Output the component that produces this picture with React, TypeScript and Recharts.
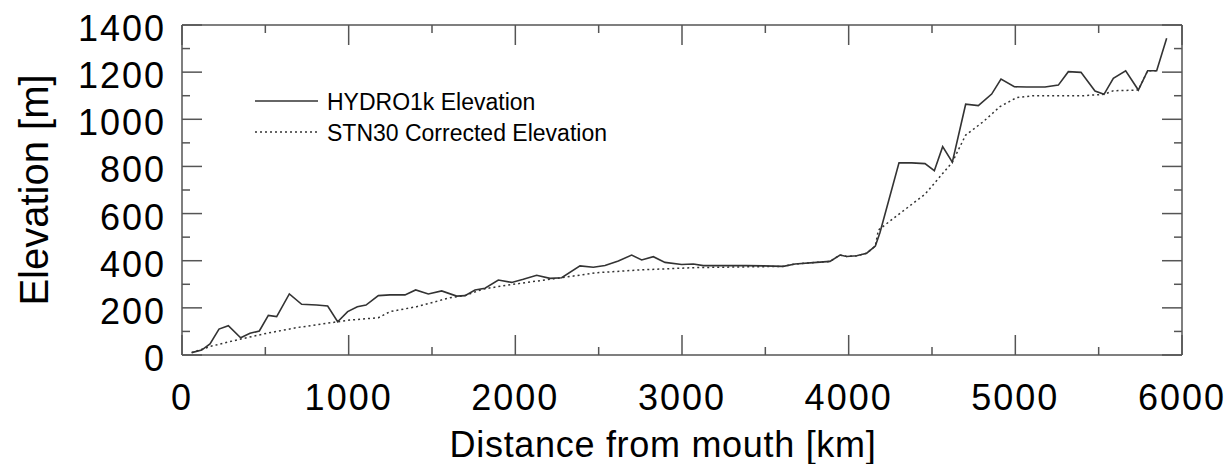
import React from "react";
import { LineChart, Line, XAxis, YAxis } from "recharts";

// HYDRO1k profile (solid)
const hydroDist = [
  58, 118, 168, 222, 278, 352, 408, 464, 518, 568, 644, 718, 808, 874, 934, 994, 1052, 1104, 1178, 1248,
  1338, 1402, 1478, 1558, 1648, 1698, 1758, 1818, 1898, 1978, 2048, 2128, 2208, 2278, 2388, 2468, 2538,
  2618, 2698, 2758, 2828, 2898, 2998, 3068, 3128, 3248, 3388, 3488, 3608, 3678, 3808, 3888, 3948, 3988,
  4048, 4108, 4160, 4188, 4302, 4378, 4458, 4514, 4564, 4622, 4702, 4778, 4858, 4914, 4994, 5068, 5178,
  5258, 5318, 5394, 5478, 5532, 5588, 5662, 5738, 5794, 5848, 5908,
];
const hydroElev = [
  10, 21, 47, 110, 124, 73, 92, 102, 168, 163, 259, 215, 212, 208, 141, 184, 205, 212, 252, 255,
  255, 276, 259, 272, 250, 252, 276, 283, 318, 308, 321, 338, 325, 328, 378, 372, 380,
  399, 424, 403, 417, 393, 384, 386, 379, 379, 379, 378, 376, 386, 393, 397, 424, 418,
  421, 432, 462, 520, 815, 815, 812, 782, 884, 818, 1064, 1058, 1107, 1171, 1138, 1137, 1137,
  1145, 1202, 1199, 1120, 1106, 1174, 1206, 1124, 1206, 1206, 1344,
];

// STN30 corrected profile (dotted)
const stnDist = [
  58, 178, 348, 508, 688, 934, 1008, 1178, 1248, 1408, 1608, 1698, 1808, 1958, 2278, 2488, 2748, 3088,
  3608, 3678, 3808, 3888, 3948, 3988, 4048, 4108, 4160, 4178, 4308, 4458, 4622, 4702, 4808, 4908, 5008,
  5108, 5408, 5532, 5588, 5738, 5794, 5848,
];
const stnElev = [
  10, 38, 67, 92, 116, 141, 148, 158, 184, 205, 243, 252, 280, 297, 328, 349, 361, 371,
  376, 386, 393, 397, 424, 418, 421, 432, 462, 530, 601, 682, 818, 933, 990, 1054, 1092,
  1100, 1100, 1106, 1121, 1124, 1206, 1206,
];

const xTicks = [0, 500, 1000, 1500, 2000, 2500, 3000, 3500, 4000, 4500, 5000, 5500, 6000];
const yTicks = [0, 100, 200, 300, 400, 500, 600, 700, 800, 900, 1000, 1100, 1200, 1300, 1400];

const hydro = hydroDist.map((d, i) => ({ x: d, y: hydroElev[i] }));
const stn = stnDist.map((d, i) => ({ x: d, y: stnElev[i] }));

const FONT = "'Liberation Sans', Arial, Helvetica, sans-serif";
const AXIS = "#555";
const INK = "#333";

const isMajorX = (v: number) => v % 1000 === 0;
const isMajorY = (v: number) => v % 200 === 0;

function BottomTick(props: any) {
  const { x, y, payload } = props;
  const major = isMajorX(payload.value);
  return (
    <g>
      <line x1={x} x2={x} y1={y} y2={y - (major ? 20 : 8)} stroke={AXIS} strokeWidth={1.5} />
      {major && (
        <text x={x} y={y + 55} textAnchor="middle" fontSize={36} letterSpacing={2} fill="#000" fontFamily={FONT}>
          {payload.value}
        </text>
      )}
    </g>
  );
}

function TopTick(props: any) {
  const { x, y, payload } = props;
  const major = isMajorX(payload.value);
  return <line x1={x} x2={x} y1={y} y2={y + (major ? 20 : 8)} stroke={AXIS} strokeWidth={1.5} />;
}

function LeftTick(props: any) {
  const { x, y, payload } = props;
  const major = isMajorY(payload.value);
  return (
    <g>
      <line x1={x} x2={x + (major ? 20 : 8)} y1={y} y2={y} stroke={AXIS} strokeWidth={1.5} />
      {major && (
        <text x={x - 16} y={y + 16} textAnchor="end" fontSize={36} letterSpacing={2} fill="#000" fontFamily={FONT}>
          {payload.value}
        </text>
      )}
    </g>
  );
}

function RightTick(props: any) {
  const { x, y, payload } = props;
  const major = isMajorY(payload.value);
  return <line x1={x} x2={x - (major ? 20 : 8)} y1={y} y2={y} stroke={AXIS} strokeWidth={1.5} />;
}

export default function App() {
  const axisLine = { stroke: AXIS, strokeWidth: 1.5 };
  return (
    <div style={{ position: "absolute", left: 0, top: 0, width: 1230, height: 464, background: "#fff" }}>
      <LineChart width={1230} height={464} margin={{ top: 24, right: 47, bottom: 108, left: 181 }}>
        <XAxis xAxisId="b" type="number" dataKey="x" domain={[0, 6000]} ticks={xTicks} interval={0}
          orientation="bottom" height={1} tickSize={0} tickMargin={0} axisLine={axisLine} tick={<BottomTick />} />
        <XAxis xAxisId="t" type="number" dataKey="x" domain={[0, 6000]} ticks={xTicks} interval={0}
          orientation="top" height={1} tickSize={0} tickMargin={0} axisLine={axisLine} tick={<TopTick />} />
        <YAxis yAxisId="l" type="number" domain={[0, 1400]} ticks={yTicks} interval={0}
          orientation="left" width={1} tickSize={0} tickMargin={0} axisLine={axisLine} tick={<LeftTick />} />
        <YAxis yAxisId="r" type="number" domain={[0, 1400]} ticks={yTicks} interval={0}
          orientation="right" width={1} tickSize={0} tickMargin={0} axisLine={axisLine} tick={<RightTick />} />

        <Line xAxisId="b" yAxisId="l" data={stn} dataKey="y" type="linear" stroke={INK} strokeWidth={1.5}
          strokeDasharray="2 3" dot={false} activeDot={false} isAnimationActive={false} />
        <Line xAxisId="t" yAxisId="r" data={hydro} dataKey="y" type="linear" stroke={INK} strokeWidth={1.6}
          dot={false} activeDot={false} isAnimationActive={false} />

        {/* legend */}
        <line x1={255} x2={318} y1={101} y2={101} stroke={INK} strokeWidth={1.5} />
        <text x={327} y={110} fontSize={23} fontFamily={FONT} fill="#000">HYDRO1k Elevation</text>
        <line x1={255} x2={318} y1={132} y2={132} stroke={INK} strokeWidth={1.5} strokeDasharray="2 3" />
        <text x={327} y={141} fontSize={23} fontFamily={FONT} fill="#000">STN30 Corrected Elevation</text>

        {/* axis titles */}
        <text x={663} y={457} textAnchor="middle" fontSize={36} letterSpacing={0.7} fontFamily={FONT} fill="#000">
          Distance from mouth [km]
        </text>
        <text x={48} y={190} transform="rotate(-90 48 190)" textAnchor="middle" fontSize={40} fontFamily={FONT} fill="#000">
          Elevation [m]
        </text>
      </LineChart>
    </div>
  );
}
